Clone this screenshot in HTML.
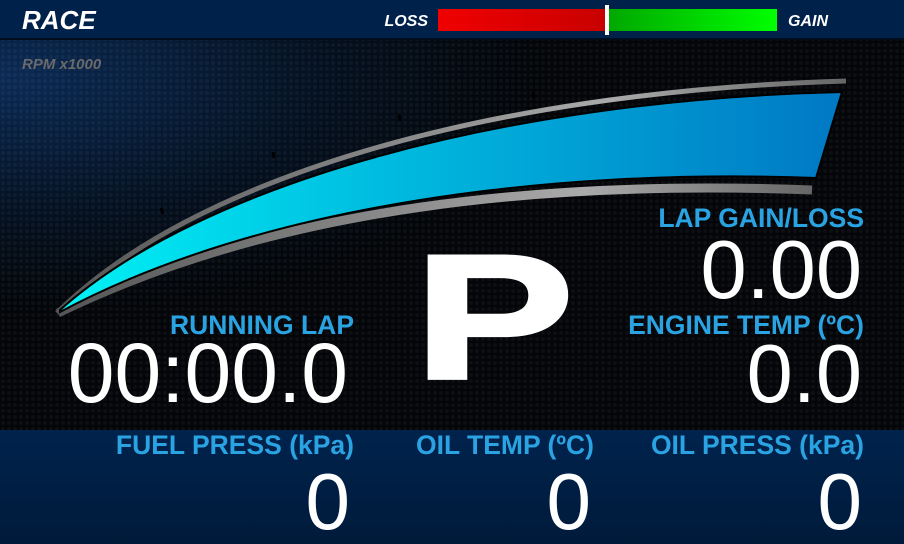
<!DOCTYPE html>
<html><head><meta charset="utf-8"><style>
html,body{margin:0;padding:0;background:#000;}
#root{position:relative;width:904px;height:544px;overflow:hidden;font-family:"Liberation Sans",sans-serif;}
svg text{font-family:"Liberation Sans",sans-serif;}
</style></head><body>
<div id="root">
<svg width="904" height="544" viewBox="0 0 904 544">
<defs>
<radialGradient id="bgGlow" cx="0" cy="0.1" r="0.6">
<stop offset="0" stop-color="#0a2a55"/><stop offset="0.6" stop-color="#04101f"/><stop offset="1" stop-color="#030508"/>
</radialGradient>
<pattern id="hex" width="6" height="6" patternUnits="userSpaceOnUse"><circle cx="3" cy="3" r="2" fill="#ffffff" opacity="0.04"/></pattern>
<linearGradient id="blueFill" x1="0" x2="1" y1="0" y2="0">
<stop offset="0" stop-color="#00f2f6"/><stop offset="0.4" stop-color="#00bde0"/><stop offset="1" stop-color="#0078c4"/>
</linearGradient>
<linearGradient id="redG" x1="0" x2="1"><stop offset="0" stop-color="#f00000"/><stop offset="1" stop-color="#c80000"/></linearGradient>
<linearGradient id="greenG" x1="0" x2="1"><stop offset="0" stop-color="#00a800"/><stop offset="1" stop-color="#00ff00"/></linearGradient>
<linearGradient id="grayG" x1="0" x2="1"><stop offset="0" stop-color="#555"/><stop offset="0.7" stop-color="#aaa"/><stop offset="1" stop-color="#666"/></linearGradient>
<linearGradient id="botG" x1="0" x2="0" y1="0" y2="1"><stop offset="0" stop-color="#00234d"/><stop offset="1" stop-color="#001a3a"/></linearGradient>
</defs>
<rect x="0" y="38" width="904" height="392" fill="url(#bgGlow)"/>
<rect x="0" y="38" width="904" height="392" fill="url(#hex)"/>
<rect x="0" y="0" width="904" height="38" fill="#00224a"/>
<rect x="0" y="38" width="904" height="2" fill="#000d1c"/>
<rect x="0" y="430" width="904" height="114" fill="url(#botG)"/>
<text x="22" y="29" font-size="26" font-weight="bold" font-style="italic" fill="#fff">RACE</text>
<text x="428" y="26" font-size="16" font-weight="bold" font-style="italic" fill="#fff" text-anchor="end">LOSS</text>
<rect x="438" y="9" width="169" height="22" fill="url(#redG)"/>
<rect x="609" y="9" width="168" height="22" fill="url(#greenG)"/>
<rect x="605" y="5" width="4" height="30" fill="#fff"/>
<text x="788" y="26" font-size="16" font-weight="bold" font-style="italic" fill="#fff">GAIN</text>
<text x="22" y="69" font-size="15" font-style="italic" font-weight="bold" fill="#6a6a6a">RPM x1000</text>
<g>
<path d="M57,313 C190,180 480,92 846,81" fill="none" stroke="url(#grayG)" stroke-width="5"/>
<g stroke="#000" stroke-width="3">
<line x1="161" y1="208" x2="163" y2="214"/><line x1="273" y1="152" x2="274" y2="158"/>
<line x1="399" y1="115" x2="400" y2="121"/><line x1="533" y1="92" x2="534" y2="98"/><line x1="684" y1="82" x2="685" y2="88"/>
</g>
<path d="M58,313 C280,205 550,180 812,190" fill="none" stroke="url(#grayG)" stroke-width="9"/>
<path d="M60,310 C200,185 500,100 842,92 L816,178 C550,168 260,205 60,312 Z" fill="url(#blueFill)" stroke="#000" stroke-width="2"/>
</g>
<text x="864" y="227" font-size="26.5" font-weight="bold" fill="#2aa3e3" text-anchor="end">LAP GAIN/LOSS</text>
<text x="862" y="298" font-size="83" fill="#fff" text-anchor="end">0.00</text>
<text x="354" y="334" font-size="26.5" font-weight="bold" fill="#2aa3e3" text-anchor="end">RUNNING LAP</text>
<text x="348" y="402" font-size="84" fill="#fff" text-anchor="end">00:00.0</text>
<text x="864" y="334" font-size="26.5" font-weight="bold" fill="#2aa3e3" text-anchor="end">ENGINE TEMP (ºC)</text>
<text x="862" y="402" font-size="83" fill="#fff" text-anchor="end">0.0</text>
<text x="0" y="0" font-size="184" font-weight="bold" fill="#fff" stroke="#fff" stroke-width="4" text-anchor="middle" transform="translate(494,378) scale(1.3,0.96)">P</text>
<text x="354" y="454" font-size="26.5" font-weight="bold" fill="#2aa3e3" text-anchor="end">FUEL PRESS (kPa)</text>
<text x="594" y="454" font-size="26.5" font-weight="bold" fill="#2aa3e3" text-anchor="end">OIL TEMP (ºC)</text>
<text x="864" y="454" font-size="26.5" font-weight="bold" fill="#2aa3e3" text-anchor="end">OIL PRESS (kPa)</text>
<text x="350" y="529" font-size="80" fill="#fff" text-anchor="end">0</text>
<text x="591" y="529" font-size="80" fill="#fff" text-anchor="end">0</text>
<text x="862" y="529" font-size="80" fill="#fff" text-anchor="end">0</text>
</svg>
</div>
</body></html>
